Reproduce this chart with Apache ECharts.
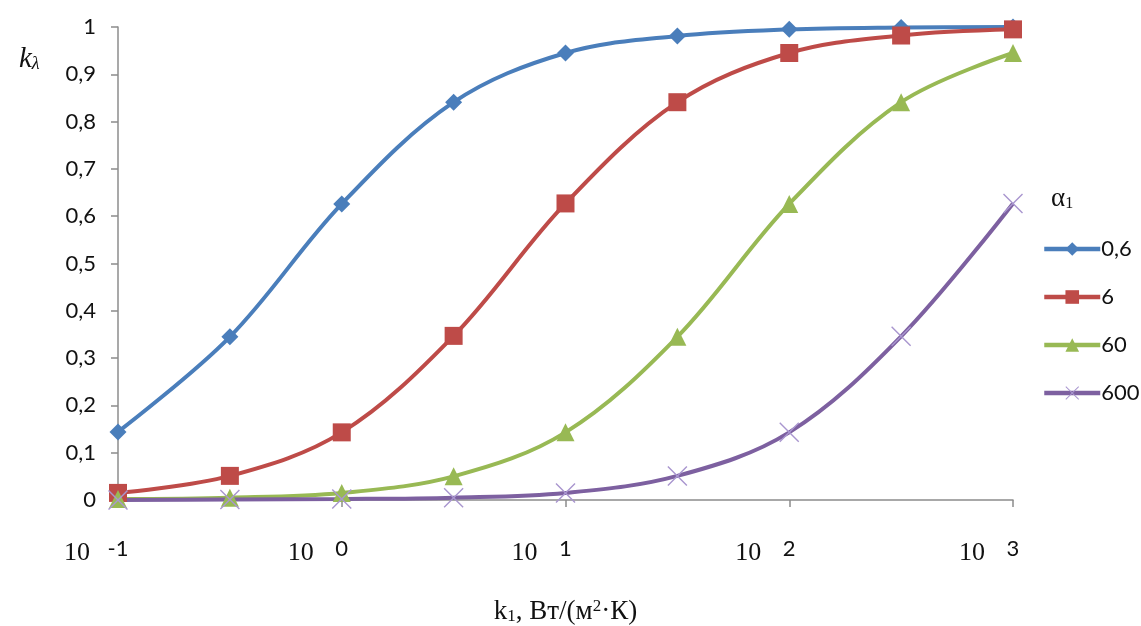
<!DOCTYPE html>
<html>
<head>
<meta charset="utf-8">
<script src="https://cdn.jsdelivr.net/npm/echarts@6/dist/echarts.min.js"></script>
<style>
html, body { margin: 0; padding: 0; background: #fff; }
#chart { width: 1141px; height: 626px; }
</style>
</head>
<body>
<div id="chart"></div>
<script>
// x: log10(k1), half-decade steps
const categories = ['-1', '-0.5', '0', '0.5', '1', '1.5', '2', '2.5', '3']
// exponent shown under the tick ('' = no label)
const tickLabels = ['-1', '', '0', '', '1', '', '2', '', '3']
const legendNames = ['0,6', '6', '60', '600']
const alpha06 = [0.144, 0.345, 0.626, 0.841, 0.945, 0.981, 0.995, 0.999, 1.0]
const alpha6 = [0.015, 0.051, 0.143, 0.347, 0.627, 0.841, 0.945, 0.982, 0.995]
const alpha60 = [0.002, 0.005, 0.015, 0.050, 0.143, 0.345, 0.626, 0.841, 0.945]
const alpha600 = [0.000, 0.001, 0.002, 0.005, 0.015, 0.051, 0.143, 0.346, 0.627]

const chart = echarts.init(document.getElementById('chart'))

// thin X-shaped marker like the Excel one
const crossPath = 'path://M0,1L1,0L10,9L19,0L20,1L11,10L20,19L19,20L10,11L1,20L0,19L9,10Z'

const mkSeries = (name, data, color, symbol, size, symColor) => ({
    name: name,
    type: 'line',
    data: data,
    smooth: 0.35,
    symbol: symbol,
    symbolSize: size,
    showAllSymbol: true,
    lineStyle: { width: 4, color: color },
    itemStyle: { color: symColor || color },
})

const serif = 'Liberation Serif'
const sans = 'Lato'

const option = {
    animation: false,
    title: [
        {
            text: '{a|α}{s|1}',
            left: 1046,
            top: 180,
            textStyle: {
                fontWeight: 'normal',
                rich: {
                    a: { fontFamily: serif, fontWeight: 'normal', fontSize: 27, color: '#111' },
                    s: { fontFamily: serif, fontWeight: 'normal', fontSize: 16, color: '#111', padding: [10, 0, 0, 0] },
                },
            },
        },
        {
            text: '{k|k}{s|λ}',
            left: 14,
            top: 40,
            textStyle: {
                fontWeight: 'normal',
                rich: {
                    k: { fontFamily: serif, fontStyle: 'italic', fontWeight: 'normal', fontSize: 29, color: '#111' },
                    s: { fontFamily: serif, fontStyle: 'italic', fontWeight: 'normal', fontSize: 18, color: '#111', padding: [10, 0, 0, 0] },
                },
            },
        },
    ],
    legend: {
        orient: 'vertical',
        left: 1037,
        top: 233,
        itemWidth: 56,
        itemHeight: 17,
        itemGap: 26,
        data: legendNames,
        lineStyle: { width: 4.5 },
        textStyle: { fontFamily: sans, fontSize: 22, color: '#111', padding: [0, 0, 0, -4] },
    },
    grid: {
        left: 118,
        right: 128,
        top: 27,
        bottom: 126,
        containLabel: false,
        outerBoundsMode: 'none',
    },
    xAxis: {
        type: 'category',
        boundaryGap: false,
        data: categories,
        name: '{k|k}{s|1}{t|, Вт/(м}{p|2}{t|·К)}',
        nameLocation: 'middle',
        nameGap: 98,
        nameTextStyle: {
            rich: {
                k: { fontFamily: serif, fontSize: 27, color: '#111' },
                s: { fontFamily: serif, fontSize: 17, color: '#111', padding: [10, 0, 0, 0] },
                t: { fontFamily: serif, fontSize: 27, color: '#111' },
                p: { fontFamily: serif, fontSize: 17, color: '#111', padding: [0, 0, 10, 0] },
            },
        },
        axisLine: { lineStyle: { color: '#8c8c8c', width: 1.5 } },
        axisTick: {
            interval: (i) => i % 2 === 0,
            length: 7,
            lineStyle: { color: '#8c8c8c', width: 1.5 },
        },
        axisLabel: {
            interval: 0,
            margin: 32,
            formatter: (val, i) => {
                const e = tickLabels[i]
                if (!e) return ''
                return '{b|10}{g|}{e|' + e + '}{s|}'
            },
            rich: {
                b: { fontFamily: serif, fontSize: 26, color: '#111', width: 26, align: 'left', padding: [8, 0, 0, 0] },
                g: { width: 16 },
                e: { fontFamily: sans, fontSize: 22, color: '#111', width: 24, align: 'center' },
                s: { width: 42 },
            },
        },
        splitLine: { show: false },
    },
    yAxis: {
        type: 'value',
        min: 0,
        max: 1,
        interval: 0.1,
        axisLine: { show: true, lineStyle: { color: '#8c8c8c', width: 1.5 } },
        axisTick: { show: true, length: 7, lineStyle: { color: '#8c8c8c', width: 1.5 } },
        axisLabel: {
            margin: 22,
            fontFamily: sans,
            fontSize: 22,
            color: '#111',
            formatter: (v) => (Math.round(v * 10) / 10).toString().replace('.', ','),
        },
        splitLine: { show: false },
    },
    series: [
        mkSeries(legendNames[0], alpha06, '#4a7ebb', 'diamond', 17),
        mkSeries(legendNames[1], alpha6, '#be4b48', 'rect', 18),
        mkSeries(legendNames[2], alpha60, '#98b954', 'triangle', 18),
        mkSeries(legendNames[3], alpha600, '#7d60a0', crossPath, 20, '#a996cf'),
    ],
}

chart.setOption(option)
</script>
</body>
</html>
